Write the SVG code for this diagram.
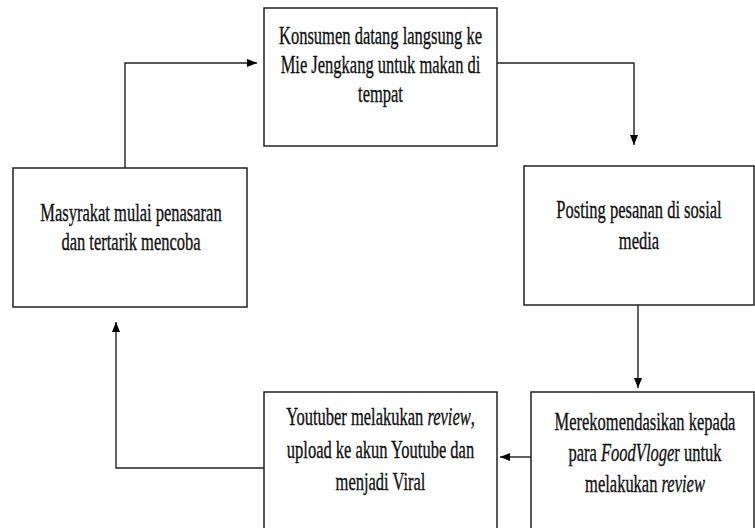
<svg xmlns="http://www.w3.org/2000/svg" width="755" height="528" viewBox="0 0 755 528">
<style>
.box{fill:#fff;stroke:#222;stroke-width:1.5}
.t{font-family:'Liberation Serif','Times New Roman','DejaVu Serif',serif;font-size:25px;fill:#111;stroke:#111;stroke-width:0.35;text-anchor:middle}
.i{font-style:italic}
.c{fill:none;stroke:#222;stroke-width:1.4}
</style>
<defs>
<marker id="ah" viewBox="0 0 10 8" refX="10" refY="4" markerWidth="10" markerHeight="8" markerUnits="userSpaceOnUse" orient="auto">
<path d="M0,0 L10,4 L0,8 Z" fill="#000"/>
</marker>
</defs>
<rect width="755" height="528" fill="#fff"/>
<g id="connectors">
<path class="c" d="M497,63 H634 V145" marker-end="url(#ah)"/>
<path class="c" d="M638,305 V388" marker-end="url(#ah)"/>
<path class="c" d="M531,457 H500" marker-end="url(#ah)"/>
<path class="c" d="M264,468 H116 V322" marker-end="url(#ah)"/>
<path class="c" d="M125,168 V63 H257" marker-end="url(#ah)"/>
</g>
<g id="node-konsumen">
<rect class="box" x="264" y="8" width="233" height="138"/>
<text class="t" transform="translate(380.5,44) scale(0.66,1)">Konsumen datang langsung ke</text>
<text class="t" transform="translate(380.5,73) scale(0.66,1)">Mie Jengkang untuk makan di</text>
<text class="t" transform="translate(380.5,102) scale(0.66,1)">tempat</text>
</g>
<g id="node-posting">
<rect class="box" x="524" y="166" width="230" height="139"/>
<text class="t" transform="translate(639,218) scale(0.66,1)">Posting pesanan di sosial</text>
<text class="t" transform="translate(639,249) scale(0.66,1)">media</text>
</g>
<g id="node-merekomendasikan">
<rect class="box" x="531" y="392" width="223" height="145"/>
<text class="t" transform="translate(645,430) scale(0.66,1)">Merekomendasikan kepada</text>
<text class="t" transform="translate(645,461) scale(0.66,1)">para <tspan class="i">FoodVloge</tspan>r untuk</text>
<text class="t" transform="translate(645,492) scale(0.66,1)">melakukan <tspan class="i">review</tspan></text>
</g>
<g id="node-youtuber">
<rect class="box" x="264" y="392" width="233" height="145"/>
<text class="t" transform="translate(380.5,425) scale(0.66,1)">Youtuber melakukan <tspan class="i">review</tspan>,</text>
<text class="t" transform="translate(380.5,458) scale(0.66,1)">upload ke akun Youtube dan</text>
<text class="t" transform="translate(380.5,490) scale(0.66,1)">menjadi Viral</text>
</g>
<g id="node-masyarakat">
<rect class="box" x="13" y="168" width="234" height="139"/>
<text class="t" transform="translate(131,221) scale(0.66,1)">Masyrakat mulai penasaran</text>
<text class="t" transform="translate(131,250) scale(0.66,1)">dan tertarik mencoba</text>
</g>
</svg>
